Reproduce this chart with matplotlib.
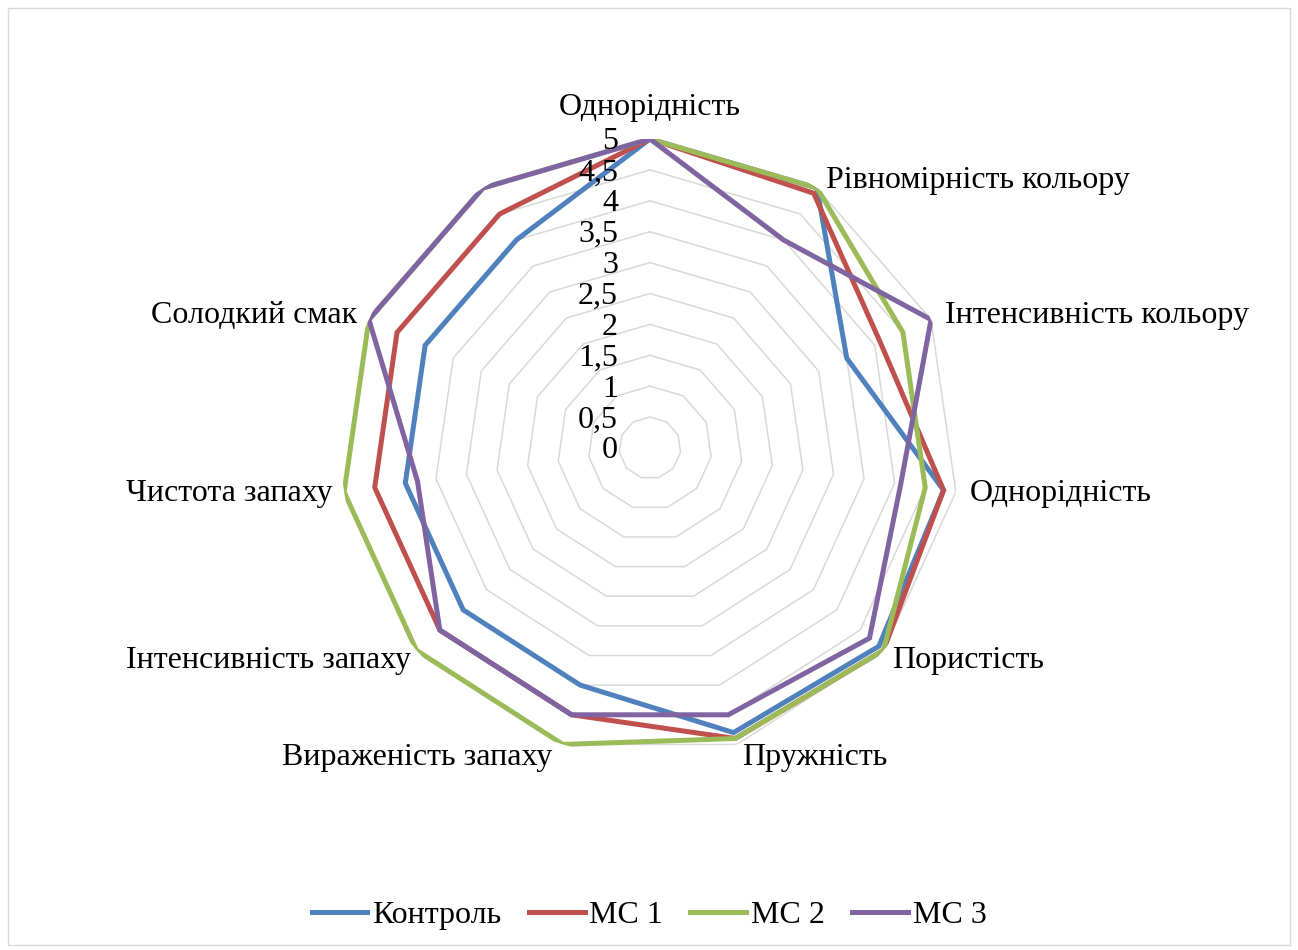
import numpy as np
import matplotlib
matplotlib.use("Agg")
import matplotlib.pyplot as plt
from matplotlib.transforms import ScaledTranslation
from matplotlib.patches import Rectangle

plt.rcParams["font.family"] = ["Liberation Serif", "DejaVu Serif"]

# Дані
categories = ["Однорідність", "Рівномірність кольору", "Інтенсивність кольору",
              "Однорідність", "Пористість", "Пружність", "Вираженість запаху",
              "Інтенсивність запаху", "Чистота запаху", "Солодкий смак", ""]
kontrol = [5.0, 5.0, 3.5, 4.8, 4.9, 4.8, 4.0, 4.0, 4.0, 4.0, 4.0]
ms1 = [5.0, 4.9, 4.1, 4.8, 5.0, 4.9, 4.5, 4.5, 4.5, 4.5, 4.5]
ms2 = [5.0, 5.0, 4.5, 4.5, 5.0, 4.9, 5.0, 5.0, 5.0, 5.0, 5.0]
ms3 = [5.0, 4.0, 5.0, 4.1, 4.7, 4.5, 4.5, 4.5, 3.8, 5.0, 5.0]
series_names = ["Контроль", "МС 1", "МС 2", "МС 3"]
r_ticks = [0, 0.5, 1, 1.5, 2, 2.5, 3, 3.5, 4, 4.5, 5]
r_tick_labels = ["0", "0,5", "1", "1,5", "2", "2,5", "3", "3,5", "4", "4,5", "5"]

COLORS = ["#4F81BD", "#C0504D", "#9BBB59", "#8064A2"]
GRID = "#d9d9d9"
FS = 23

n = len(categories)
theta = np.arange(n) * 2 * np.pi / n
theta_c = np.append(theta, theta[0])

fig = plt.figure(figsize=(12.98, 9.5), dpi=100)
fig.patches.append(Rectangle((8 / 1298, 5 / 950), 1282 / 1298, 937 / 950,
                             transform=fig.transFigure, fill=False,
                             edgecolor=GRID, lw=1))
ax = fig.add_axes([0.2627, 0.2032, 0.4761, 0.6505], projection="polar")
ax.set_theta_zero_location("N")
ax.set_theta_direction(-1)
ax.set_ylim(0, 5)
ax.grid(False)
ax.spines["polar"].set_visible(False)
ax.set_xticks([]); ax.set_yticks([])
ax.patch.set_alpha(0)

# кільця сітки
for r in r_ticks[1:]:
    ax.plot(theta_c, [r] * (n + 1), color=GRID, lw=1.1, zorder=1)

for vals, name, c in zip([kontrol, ms1, ms2, ms3], series_names, COLORS):
    ax.plot(theta_c, vals + vals[:1], color=c, lw=3.6, label=name, zorder=3,
            solid_joinstyle="miter")

# підписи шкали
off = ScaledTranslation(-32 / 100, -3 / 100, fig.dpi_scale_trans)
for r, lab in zip(r_ticks, r_tick_labels):
    ax.text(0, r, lab, ha="right", va="center", fontsize=FS,
            transform=ax.transData + off, zorder=4)

# підписи категорій (зсув у пікселях)
lab_pos = [("center", 0, 31), ("left", 9, 8), ("left", 14, 4), ("left", 14, -2),
           ("left", 9, -10), ("left", 5, -13), ("right", -11, -13),
           ("right", -6, -10), ("right", -12, -2), ("right", -12, 4), ("center", 0, 0)]
for t, lab, (ha, dx, dy) in zip(theta, categories, lab_pos):
    tr = ax.transData + ScaledTranslation(dx / 100, dy / 100, fig.dpi_scale_trans)
    ax.text(t, 5, lab, ha=ha, va="center", fontsize=FS, transform=tr)

fig.legend(loc="center", bbox_to_anchor=(0.5, 1 - 915 / 950), ncol=4,
           frameon=False, fontsize=FS, handlelength=1.75, handletextpad=0.15,
           columnspacing=0.85)

fig.savefig("out.png", dpi=100)
